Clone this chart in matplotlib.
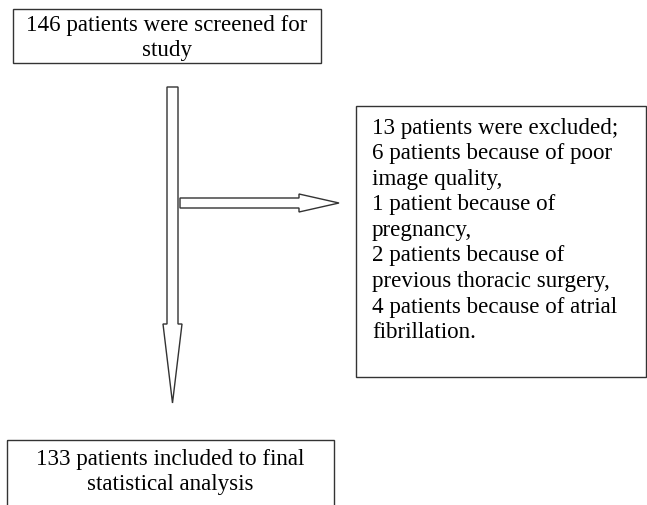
import matplotlib
matplotlib.use('Agg')
import matplotlib.pyplot as plt
from matplotlib.patches import Rectangle, FancyArrow

# box texts of the flow chart
screened_lines = ["146 patients were screened for", "study"]
excluded_lines = [
    "13 patients were excluded;",
    "6 patients because of poor",
    "image quality,",
    "1 patient because of",
    "pregnancy,",
    "2 patients because of",
    "previous thoracic surgery,",
    "4 patients because of atrial",
    "fibrillation.",
]
included_lines = ["133 patients included to final", "statistical analysis"]

plt.rcParams['font.family'] = ['Liberation Serif', 'DejaVu Serif']
FS = 16.6
EDGE = '#333333'

fig = plt.figure(figsize=(6.47, 5.06), dpi=100)
ax = fig.add_axes([0, 0, 1, 1])
ax.set_xlim(0, 647)
ax.set_ylim(506, 0)
ax.axis('off')


def box(x0, y0, x1, y1):
    ax.add_patch(Rectangle((x0, y0), x1 - x0, y1 - y0, fill=False,
                           edgecolor=EDGE, linewidth=1.0))


def lines_at(lines, x, y0, pitch, ha):
    for i, s in enumerate(lines):
        ax.text(x, y0 + i * pitch, s, ha=ha, va='center', fontsize=FS, color='black')


# top box
box(13, 10, 321, 64)
lines_at(screened_lines, 167, 25, 25, 'center')

# excluded box
box(356, 107, 646, 378)
lines_at(excluded_lines, 372, 128, 25.6, 'left')

# bottom box (runs off the page)
box(7, 441, 334, 540)
lines_at(included_lines, 170, 460, 25, 'center')

# arrows
ax.add_patch(FancyArrow(172.5, 88, 0, 316, width=11, head_width=19, head_length=79,
                        length_includes_head=True, facecolor='white', edgecolor=EDGE,
                        linewidth=1.0))
ax.add_patch(FancyArrow(180, 204, 159, 0, width=10, head_width=18, head_length=40,
                        length_includes_head=True, facecolor='white', edgecolor=EDGE,
                        linewidth=1.0))

fig.savefig('out.png', dpi=100, facecolor='white')
